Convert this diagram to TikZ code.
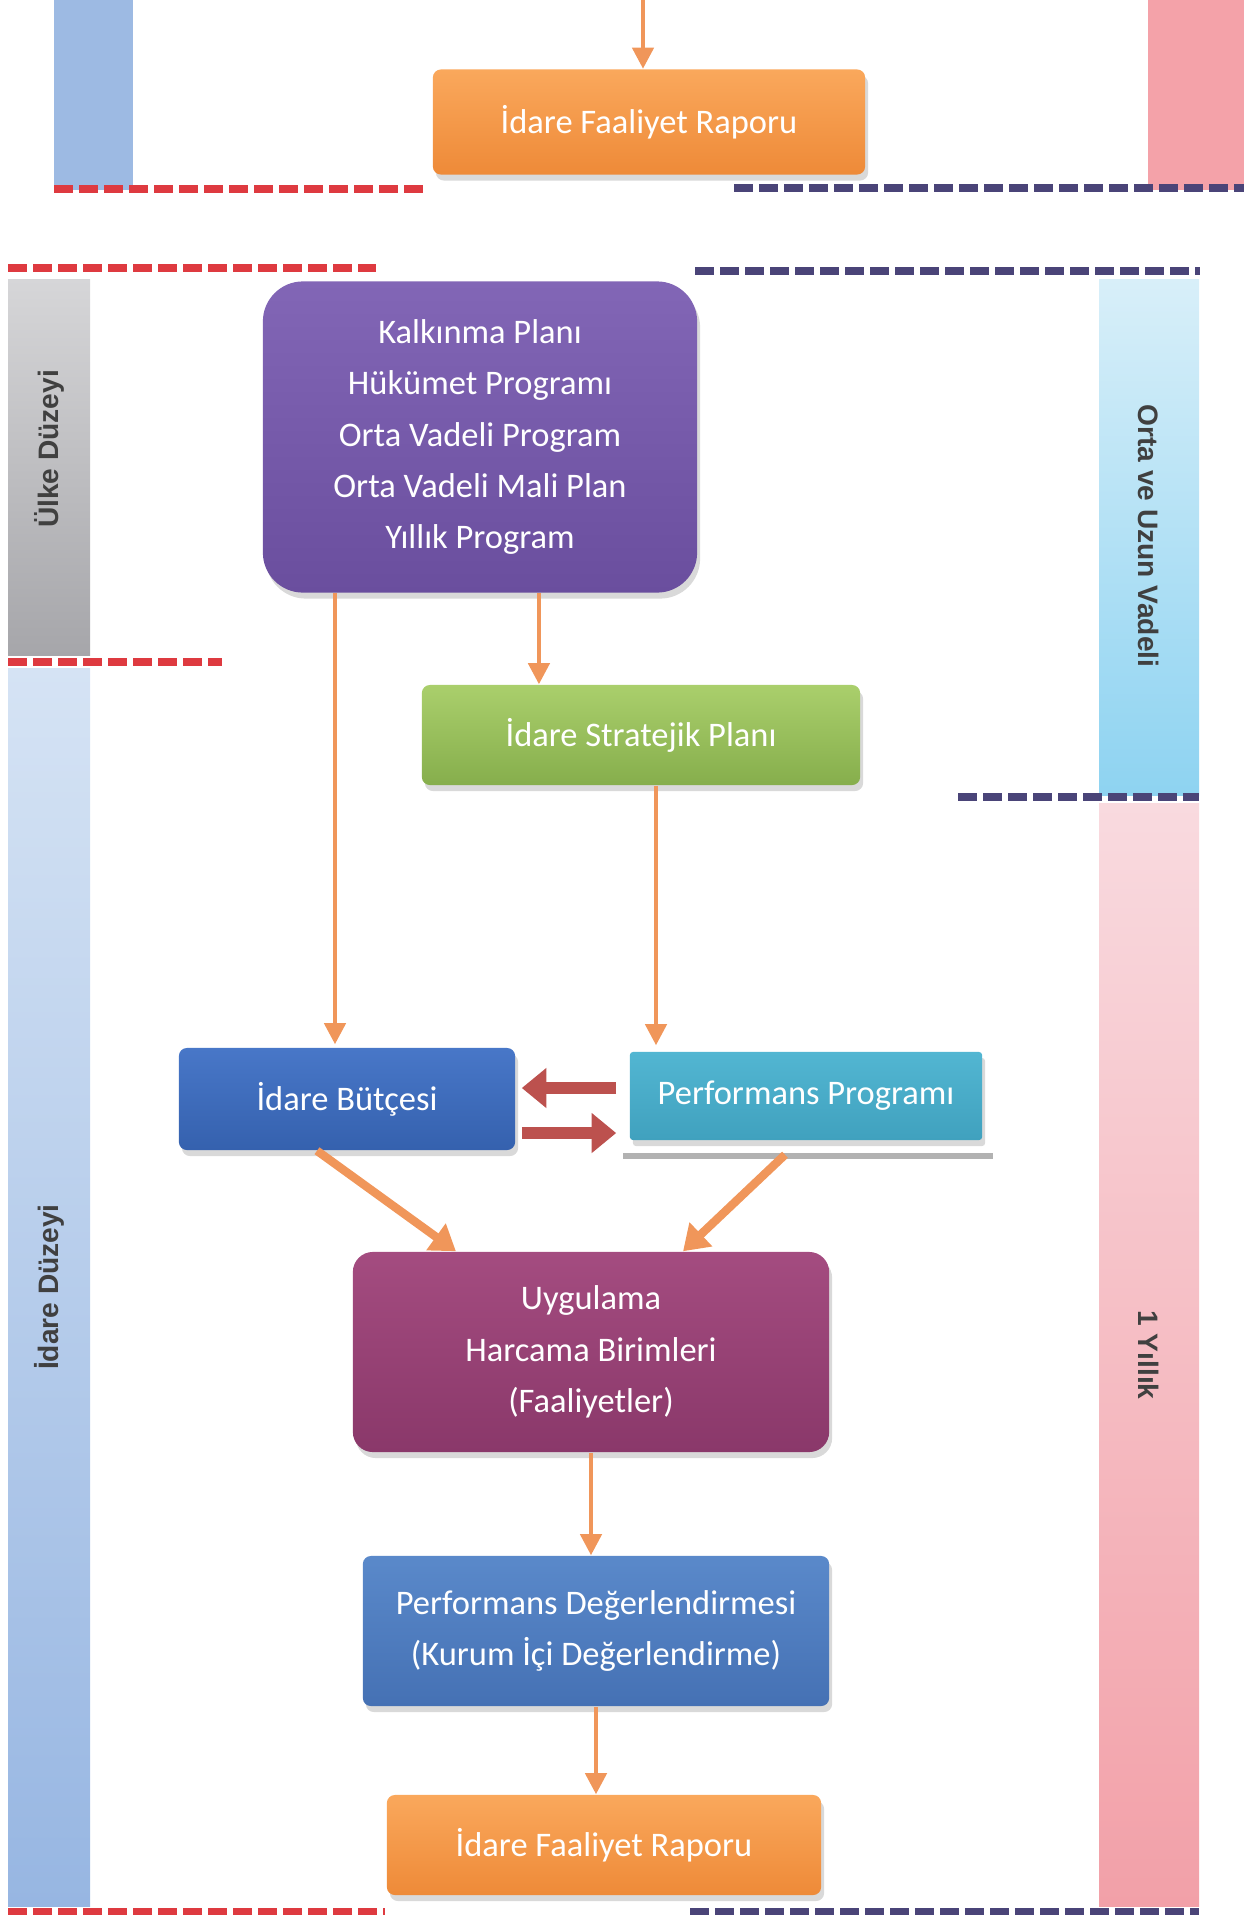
\documentclass[tikz,border=0pt]{standalone}
\usepackage{fontspec}
\setmainfont{Carlito}
\newfontfamily\yanyazi{Liberation Sans}
\usetikzlibrary{arrows.meta,shadows}

\definecolor{okturuncu}{HTML}{F0965A}
\definecolor{okkirmizi}{HTML}{BC514E}
\definecolor{kirmizicizgi}{HTML}{DE3A40}
\definecolor{laciverticizgi}{HTML}{4A4478}
\definecolor{yazigri}{HTML}{404040}
% kutu renkleri (ust / alt)
\definecolor{morust}{HTML}{8266B6}\definecolor{moralt}{HTML}{6A4E9E}
\definecolor{yesilust}{HTML}{AACF6C}\definecolor{yesilalt}{HTML}{86AE4C}
\definecolor{butceust}{HTML}{4877C8}\definecolor{butcealt}{HTML}{3561AE}
\definecolor{turkuazust}{HTML}{52B6D2}\definecolor{turkuazalt}{HTML}{40A1BE}
\definecolor{murdumust}{HTML}{A44C80}\definecolor{murdumalt}{HTML}{8A386A}
\definecolor{maviust}{HTML}{5A89CA}\definecolor{mavialt}{HTML}{4571B4}
\definecolor{turuncuust}{HTML}{FAA85C}\definecolor{turuncualt}{HTML}{EE8A38}

\begin{document}
\begin{tikzpicture}[x=0.01cm,y=-0.01cm,
  kutu/.style={rounded corners=0.08cm, text=white, align=center, inner sep=0pt,
    font=\fontsize{9.8}{14.6}\selectfont,
    drop shadow={shadow xshift=0.03cm,shadow yshift=-0.06cm,opacity=0.3}},
  yan/.style={text=yazigri, font=\yanyazi\bfseries\fontsize{8}{10}\selectfont},
  kesik/.style={line width=2pt, dash pattern=on 0.19cm off 0.06cm},
  ok/.style={draw=okturuncu, line width=1.2pt, -{Triangle[width=6pt,length=6pt]}},
  kalinok/.style={draw=okturuncu, line width=2.4pt, -{Triangle[width=9pt,length=7pt]}},
  ciftok/.style={draw=okkirmizi, line width=3.6pt, -{Triangle[width=11pt,length=7pt]}}]

\useasboundingbox (0,0) rectangle (1244,1918);

% ust kisim (onceki sayfadan)
\fill[fill={rgb,255:red,157;green,186;blue,227}] (54,0) rectangle (133,190);
\fill[fill={rgb,255:red,244;green,162;blue,169}] (1148,0) rectangle (1244,190);
\draw[kesik, kirmizicizgi] (54,189) -- (429,189);
\draw[kesik, laciverticizgi] (734,188) -- (1244,188);

% yan seritler
\fill[top color={rgb,255:red,214;green,214;blue,216}, bottom color={rgb,255:red,166;green,166;blue,170}] (8,279) rectangle (90,655);
\fill[top color={rgb,255:red,213;green,227;blue,244}, bottom color={rgb,255:red,151;green,182;blue,226}] (8,668) rectangle (90,1906);
\fill[top color={rgb,255:red,216;green,239;blue,249}, bottom color={rgb,255:red,142;green,211;blue,241}] (1099,279) rectangle (1199,795);
\fill[top color={rgb,255:red,249;green,218;blue,223}, bottom color={rgb,255:red,242;green,160;blue,168}] (1099,803) rectangle (1199,1906);

\draw[kesik, kirmizicizgi] (8,268) -- (376,268);
\draw[kesik, laciverticizgi] (695,271) -- (1200,271);
\draw[kesik, kirmizicizgi] (8,662) -- (222,662);
\draw[kesik, laciverticizgi] (958,797) -- (1199,797);
\draw[kesik, kirmizicizgi] (8,1911) -- (385,1911);
\draw[kesik, laciverticizgi] (690,1911) -- (1199,1911);

\node[yan, rotate=90] (ulke) at (49,449) {Ülke Düzeyi};
\node[yan, rotate=90] (idare) at (49,1287) {İdare Düzeyi};
\node[yan, rotate=-90] (vade) at (1149,536) {Orta ve Uzun Vadeli};
\node[yan, rotate=-90] (yil) at (1149,1355) {1 Yıllık};

% kutular
\node[kutu, top color=turuncuust, bottom color=turuncualt,
  minimum width=4.32cm, minimum height=1.05cm] (rapor0) at (649,122) {İdare Faaliyet Raporu};
\coordinate (giris) at (643,0);

\node[kutu, rounded corners=0.4cm, top color=morust, bottom color=moralt,
  minimum width=4.34cm, minimum height=3.11cm] (plan) at (480,437)
  {Kalkınma Planı\\Hükümet Programı\\Orta Vadeli Program\\Orta Vadeli Mali Plan\\Yıllık Program};
\node[kutu, top color=yesilust, bottom color=yesilalt,
  minimum width=4.38cm, minimum height=1.0cm] (strateji) at (641,735) {İdare Stratejik Planı};
\node[kutu, top color=butceust, bottom color=butcealt,
  minimum width=3.36cm, minimum height=1.02cm] (butce) at (347,1099) {İdare Bütçesi};
\node[kutu, top color=turkuazust, bottom color=turkuazalt, drop shadow={opacity=0},
  rounded corners=0.03cm, minimum width=3.52cm, minimum height=0.88cm] (perfprog) at (806,1096) {Performans Programı};
\node[kutu, top color=murdumust, bottom color=murdumalt,
  rounded corners=0.2cm, minimum width=4.76cm, minimum height=2.0cm] (uyg) at (591,1352)
  {Uygulama\\Harcama Birimleri\\(Faaliyetler)};
\node[kutu, top color=maviust, bottom color=mavialt,
  minimum width=4.66cm, minimum height=1.5cm] (perfdeg) at (596,1631)
  {Performans Değerlendirmesi\\(Kurum İçi Değerlendirme)};
\node[kutu, top color=turuncuust, bottom color=turuncualt,
  minimum width=4.34cm, minimum height=1.0cm] (rapor) at (604,1845) {İdare Faaliyet Raporu};

\draw[black!30, line width=1.6pt] ([yshift=-0.15cm,xshift=-0.06cm]perfprog.south west) -- ([yshift=-0.15cm,xshift=0.1cm]perfprog.south east);

% oklar
\draw[ok] (giris) -- (giris |- rapor0.north);
\draw[ok] ([xshift=-0.12cm]butce.north |- plan.south) -- ([xshift=-0.12cm,yshift=0.03cm]butce.north);
\draw[ok] ([xshift=-1.02cm]strateji.north |- plan.south) -- ([xshift=-1.02cm]strateji.north);
\draw[ok] ([xshift=0.15cm]strateji.south) -- ([xshift=0.15cm,yshift=0.06cm]strateji.south |- perfprog.north);
\draw[ciftok, shorten <=0.13cm, shorten >=0.06cm] ([yshift=0.08cm]perfprog.west) -- ([yshift=0.08cm]perfprog.west -| butce.east);
\draw[ciftok, shorten <=0.06cm, shorten >=0.13cm] ([yshift=-0.34cm]butce.east) -- ([yshift=-0.34cm]butce.east -| perfprog.west);
\draw[kalinok] ([xshift=-0.30cm]butce.south) -- ([xshift=-1.35cm]uyg.north);
\draw[kalinok] ([xshift=-0.21cm,yshift=-0.14cm]perfprog.south) -- ([xshift=0.92cm]uyg.north);
\draw[ok] (uyg.south) -- (uyg.south |- perfdeg.north);
\draw[ok] (perfdeg.south) -- (perfdeg.south |- rapor.north);

\end{tikzpicture}
\end{document}
